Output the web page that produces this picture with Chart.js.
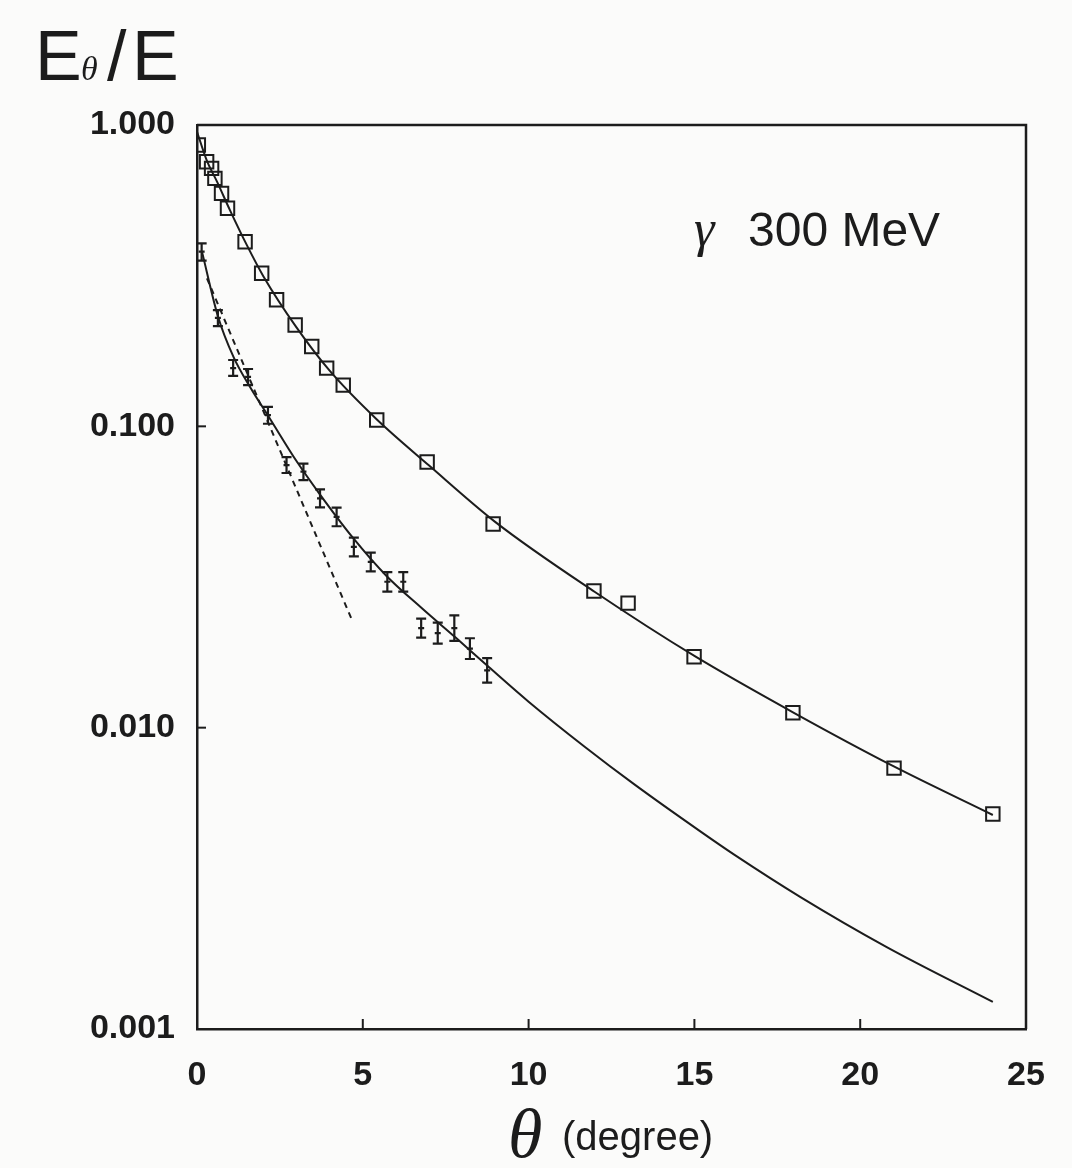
<!DOCTYPE html>
<html>
<head>
<meta charset="utf-8">
<script src="https://cdn.jsdelivr.net/npm/chart.js@4"></script>
<style>
  html, body { margin: 0; padding: 0; background: #fbfbfa; }
  #chart { display: block; }
</style>
</head>
<body>
<canvas id="chart" width="1072" height="1168"></canvas>
<script>
// open squares (upper series)
const squareX = [0.04, 0.29, 0.44, 0.54, 0.74, 0.92, 1.45, 1.95, 2.40, 2.96, 3.46, 3.91, 4.41, 5.42, 6.94, 8.93, 11.97, 13.0, 14.99, 17.97, 21.02, 24.0];
const squareY = [0.858, 0.755, 0.718, 0.665, 0.593, 0.529, 0.410, 0.322, 0.263, 0.217, 0.184, 0.156, 0.137, 0.105, 0.0761, 0.0474, 0.0284, 0.0259, 0.0172, 0.0112, 0.00734, 0.00517];

// points with error bars (lower series)
const barX = [0.14, 0.63, 1.09, 1.54, 2.14, 2.70, 3.21, 3.71, 4.21, 4.73, 5.24, 5.74, 6.22, 6.76, 7.26, 7.76, 8.23, 8.75];
const barY = [0.38, 0.229, 0.156, 0.146, 0.109, 0.0744, 0.0707, 0.0577, 0.0501, 0.0398, 0.0355, 0.0305, 0.0305, 0.0214, 0.0206, 0.0214, 0.0183, 0.0155];
const barLo = [0.355, 0.215, 0.147, 0.137, 0.102, 0.0700, 0.0663, 0.0538, 0.0466, 0.0370, 0.0330, 0.0283, 0.0283, 0.0199, 0.0190, 0.0194, 0.0169, 0.0141];
const barHi = [0.405, 0.243, 0.166, 0.155, 0.116, 0.0790, 0.0752, 0.0618, 0.0537, 0.0427, 0.0381, 0.0328, 0.0328, 0.0230, 0.0223, 0.0236, 0.0198, 0.0170];

// fitted curves
const upperCurveX = [0, 0.3, 0.6, 1.0, 1.5, 2.0, 3.0, 4.0, 5.4, 7.0, 9.0, 12.0, 15.0, 18.0, 21.0, 24.0];
const upperCurveY = [0.95, 0.76, 0.65, 0.52, 0.40, 0.315, 0.213, 0.153, 0.106, 0.0741, 0.0481, 0.0282, 0.0173, 0.0112, 0.00745, 0.00513];
const lowerCurveX = [0.15, 0.63, 1.1, 1.6, 2.2, 3.0, 3.7, 4.7, 5.7, 6.8, 7.8, 8.8, 10.0, 11.7, 13.2, 15.2, 16.2, 18.2, 20.8, 24.0];
const lowerCurveY = [0.38, 0.232, 0.170, 0.135, 0.106, 0.0767, 0.0596, 0.0427, 0.0320, 0.0248, 0.0199, 0.0159, 0.0122, 0.00863, 0.00647, 0.00451, 0.00379, 0.00274, 0.00187, 0.00123];
const dashX = [0.3, 4.7];
const dashY = [0.31, 0.0224];

const xTicks = [0, 5, 10, 15, 20, 25];
const yTicks = [0.001, 0.01, 0.1, 1];

const ink = '#1c1c1c';
const sans = '"Liberation Sans", Arial, Helvetica, sans-serif';
const serif = '"Liberation Serif", "DejaVu Serif", serif';

function pts(xs, ys) {
  return xs.map((x, i) => ({ x: x, y: ys[i] }));
}

const paperPlugin = {
  id: 'paper',
  beforeDraw(chart) {
    const ctx = chart.ctx;
    ctx.save();
    ctx.fillStyle = '#fbfbfa';
    ctx.fillRect(0, 0, chart.width, chart.height);
    ctx.restore();
  }
};

const framePlugin = {
  id: 'frame',
  afterDatasetsDraw(chart) {
    const ctx = chart.ctx;
    const a = chart.chartArea;
    const xs = chart.scales.x;
    const ys = chart.scales.y;
    ctx.save();
    ctx.strokeStyle = ink;
    ctx.lineWidth = 2.5;
    ctx.beginPath();
    ctx.moveTo(a.left, a.top);
    ctx.lineTo(a.right, a.top);
    ctx.lineTo(a.right, a.bottom);
    ctx.stroke();

    // inward ticks
    ctx.lineWidth = 2;
    [5, 10, 15, 20].forEach(v => {
      const px = xs.getPixelForValue(v);
      ctx.beginPath();
      ctx.moveTo(px, a.bottom);
      ctx.lineTo(px, a.bottom - 10);
      ctx.stroke();
    });
    [0.01, 0.1].forEach(v => {
      const py = ys.getPixelForValue(v);
      ctx.beginPath();
      ctx.moveTo(a.left, py);
      ctx.lineTo(a.left + 9, py);
      ctx.stroke();
    });

    // error bars
    ctx.lineWidth = 2.2;
    barX.forEach((x, i) => {
      const px = xs.getPixelForValue(x);
      const pLo = ys.getPixelForValue(barLo[i]);
      const pHi = ys.getPixelForValue(barHi[i]);
      const pMid = ys.getPixelForValue(barY[i]);
      ctx.beginPath();
      ctx.moveTo(px, pLo);
      ctx.lineTo(px, pHi);
      ctx.moveTo(px - 5, pLo);
      ctx.lineTo(px + 5, pLo);
      ctx.moveTo(px - 5, pHi);
      ctx.lineTo(px + 5, pHi);
      ctx.moveTo(px - 3, pMid);
      ctx.lineTo(px + 3, pMid);
      ctx.stroke();
    });
    ctx.restore();
  }
};

const textPlugin = {
  id: 'texts',
  afterDraw(chart) {
    const ctx = chart.ctx;
    ctx.save();
    ctx.fillStyle = ink;
    ctx.textBaseline = 'alphabetic';
    ctx.textAlign = 'left';

    // y title  E_theta / E
    ctx.font = '70px ' + sans;
    ctx.fillText('E', 35, 80);
    ctx.font = 'italic 34px ' + serif;
    ctx.fillText('θ', 81, 80);
    ctx.font = '70px ' + sans;
    ctx.fillText('/', 107, 80);
    ctx.fillText('E', 132, 80);

    // x title
    ctx.font = 'italic 70px ' + serif;
    ctx.fillText('θ', 508, 1157);
    ctx.font = '40px ' + sans;
    ctx.fillText('(degree)', 562, 1150);

    // label in plot
    ctx.font = 'italic 52px ' + serif;
    ctx.fillText('γ', 694, 246);
    ctx.font = '48px ' + sans;
    ctx.fillText('300 MeV', 748, 246);
    ctx.restore();
  }
};

new Chart(document.getElementById('chart'), {
  type: 'scatter',
  data: {
    datasets: [
      {
        type: 'line',
        data: pts(upperCurveX, upperCurveY),
        borderColor: ink,
        borderWidth: 2,
        pointRadius: 0,
        cubicInterpolationMode: 'monotone',
        fill: false
      },
      {
        type: 'line',
        data: pts(lowerCurveX, lowerCurveY),
        borderColor: ink,
        borderWidth: 2,
        pointRadius: 0,
        cubicInterpolationMode: 'monotone',
        fill: false
      },
      {
        type: 'line',
        data: pts(dashX, dashY),
        borderColor: ink,
        borderWidth: 2,
        borderDash: [6, 5],
        pointRadius: 0,
        fill: false
      },
      {
        data: pts(squareX, squareY),
        pointStyle: 'rect',
        pointRadius: 9.5,
        borderColor: ink,
        borderWidth: 2,
        backgroundColor: 'rgba(0,0,0,0)'
      },
      {
        data: pts(barX, barY),
        pointRadius: 0
      }
    ]
  },
  options: {
    responsive: false,
    animation: false,
    layout: { padding: { left: 0, top: 125, right: 46, bottom: 0 } },
    plugins: {
      legend: { display: false },
      tooltip: { enabled: false }
    },
    scales: {
      x: {
        type: 'linear',
        min: 0,
        max: 25,
        afterBuildTicks: s => { s.ticks = xTicks.map(v => ({ value: v })); },
        ticks: {
          color: ink,
          padding: 26,
          maxRotation: 0,
          font: { family: sans, size: 34, weight: 'bold' }
        },
        grid: { display: false, drawTicks: false },
        border: { display: true, color: ink, width: 2.5 },
        afterFit: s => { s.height = 139; }
      },
      y: {
        type: 'logarithmic',
        min: 0.001,
        max: 1,
        afterBuildTicks: s => { s.ticks = yTicks.map(v => ({ value: v })); },
        ticks: {
          color: ink,
          padding: 22,
          callback: v => Number(v).toFixed(3),
          font: { family: sans, size: 34, weight: 'bold' }
        },
        grid: { display: false, drawTicks: false },
        border: { display: true, color: ink, width: 2.5 },
        afterFit: s => { s.width = 197; }
      }
    }
  },
  plugins: [paperPlugin, framePlugin, textPlugin]
});
</script>
</body>
</html>
